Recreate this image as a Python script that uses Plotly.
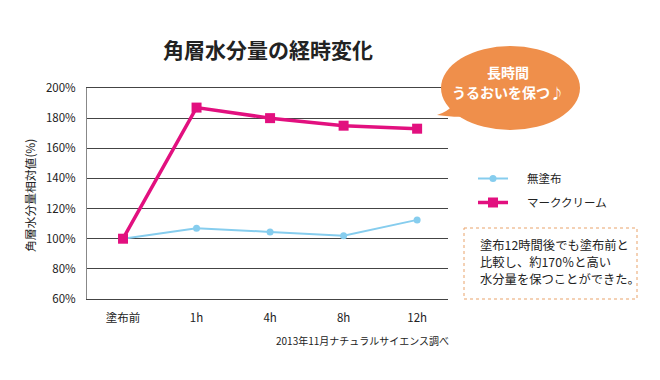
import plotly.graph_objects as go

categories = ["塗布前", "1h", "4h", "8h", "12h"]
untreated = [100, 107, 104.5, 102, 112.5]
cream = [100, 187, 180, 175, 173]
series_names = ["無塗布", "マーククリーム"]
y_ticks = [60, 80, 100, 120, 140, 160, 180, 200]
y_tick_labels = ["60%", "80%", "100%", "120%", "140%", "160%", "180%", "200%"]
bubble_lines = ["長時間", "うるおいを保つ♪"]
note_lines = ["塗布12時間後でも塗布前と", "比較し、約170％と高い", "水分量を保つことができた。"]

OFF = 8  # page body margin
W, H = 660 - 2 * OFF, 380 - 2 * OFF
L, R, T, B = 87 - OFF, 448 - OFF, 88 - OFF, 299 - OFF
FONT = "Noto Sans CJK JP"
PAD = "\u2003\u00a0"


def px(x):
    return (x - OFF - L) / (R - L)


def py(y):
    return (B - (y - OFF)) / (B - T)


fig = go.Figure()
fig.add_trace(go.Scatter(
    x=list(range(len(categories))), y=untreated, name=PAD + series_names[0], legendgroup="a",
    mode="lines+markers", line=dict(color="#86CDEE", width=2),
    marker=dict(symbol="circle", size=7, color="#86CDEE"),
))
fig.add_trace(go.Scatter(
    x=list(range(len(categories))), y=cream, name=PAD + series_names[1], legendgroup="b",
    mode="lines+markers", line=dict(color="#E2107F", width=3.5),
    marker=dict(symbol="square", size=10, color="#E2107F"),
))

shapes = []
# speech bubble
shapes.append(dict(type="path", xref="paper", yref="paper",
                   path=f"M {px(452)} {py(106)} Q {px(447)} {py(112)} {px(437)} {py(115)} "
                        f"Q {px(458)} {py(118)} {px(470)} {py(116)} Z",
                   fillcolor="#EF8F4B", line=dict(width=0)))
shapes.append(dict(type="circle", xref="paper", yref="paper",
                   x0=px(441), x1=px(580), y0=py(46), y1=py(130),
                   fillcolor="#EF8F4B", line=dict(width=0)))
# dotted note box
shapes.append(dict(type="rect", xref="paper", yref="paper",
                   x0=px(464), x1=px(637), y0=py(228), y1=py(299),
                   line=dict(color="#E9A36A", width=1, dash="dot")))

annotations = [
    dict(text="<b>角層水分量の経時変化</b>", x=px(268), y=py(49), xref="paper", yref="paper",
         showarrow=False, font=dict(size=21, color="#222", family=FONT), xanchor="center", yanchor="middle"),
    dict(text="角層水分量相対値(%)", x=px(29), y=py(196), xref="paper", yref="paper",
         showarrow=False, textangle=-90, font=dict(size=11.8, color="#222", family=FONT),
         xanchor="center", yanchor="middle"),
    dict(text="2013年11月ナチュラルサイエンス調べ", x=px(451), y=py(340), xref="paper", yref="paper",
         showarrow=False, font=dict(size=10, color="#222", family=FONT), xanchor="right", yanchor="middle"),
]
for i, line in enumerate(bubble_lines):
    annotations.append(dict(text=f"<b>{line}</b>", x=px(508), y=py(72 + 20 * i), xref="paper", yref="paper",
                            showarrow=False, font=dict(size=14, color="white", family=FONT),
                            xanchor="center", yanchor="middle"))
for i, line in enumerate(note_lines):
    annotations.append(dict(text=line, x=px(478), y=py(245 + 17 * i), xref="paper", yref="paper",
                            showarrow=False, font=dict(size=12.3, color="#222", family=FONT),
                            xanchor="left", yanchor="middle"))

fig.update_layout(
    width=W, height=H, autosize=False,
    margin=dict(l=L, r=W - R, t=T, b=H - B),
    paper_bgcolor="white", plot_bgcolor="white",
    font=dict(family=FONT, size=11, color="#222"),
    shapes=shapes, annotations=annotations,
    legend=dict(x=px(473), y=py(164), xref="paper", yref="paper", xanchor="left", yanchor="top",
                font=dict(size=11.5, color="#222", family=FONT), tracegroupgap=5,
                itemwidth=30, bgcolor="rgba(0,0,0,0)"),
    showlegend=True,
)
fig.update_xaxes(
    tickmode="array", tickvals=list(range(len(categories))), ticktext=categories,
    range=[-0.49, 4.42], showgrid=False, zeroline=False,
    showline=True, mirror=True, linecolor="#444", linewidth=1, ticks="", ticklabelstandoff=8,
    tickfont=dict(size=11.5, color="#222"),
)
fig.update_yaxes(
    range=[60, 200], tickmode="array", tickvals=y_ticks, ticktext=y_tick_labels,
    showgrid=True, gridcolor="#444", gridwidth=1,
    zeroline=False, showline=True, linecolor="#888", linewidth=1, ticks="",
    tickfont=dict(size=11.5, color="#222"), ticklabelstandoff=8,
)
fig.write_html("out.html")
